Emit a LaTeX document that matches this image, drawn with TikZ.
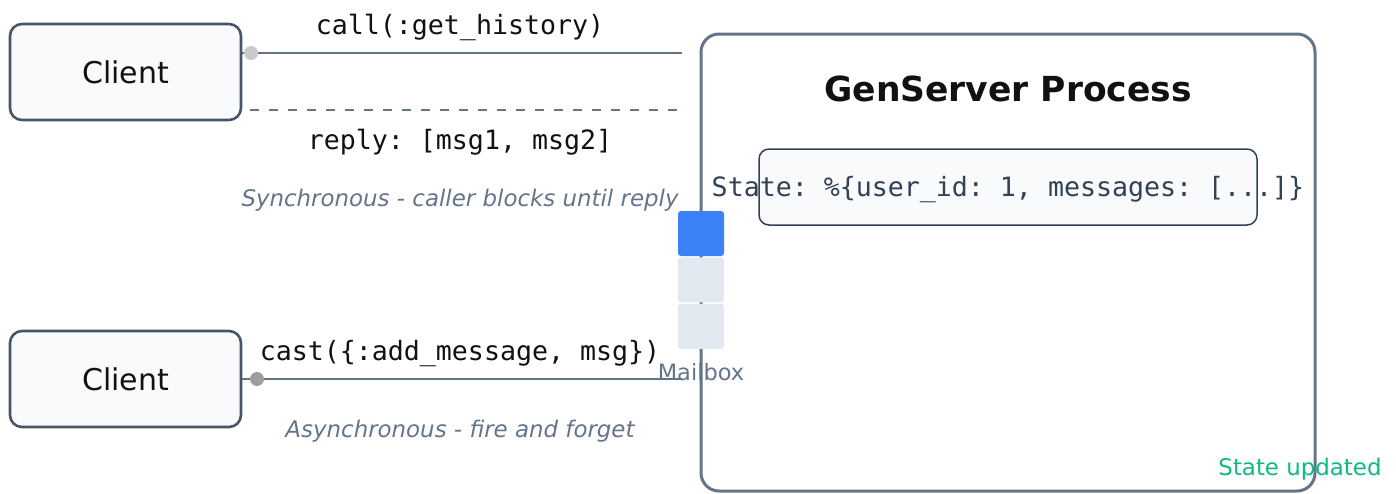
\documentclass[tikz,border=0pt]{standalone}
\usepackage{fontspec}
\setmainfont{DejaVu Sans}
\setmonofont{DejaVu Sans Mono}
\usetikzlibrary{positioning}
\definecolor{slate}{HTML}{64748B}
\definecolor{slatedark}{HTML}{475569}
\definecolor{slateink}{HTML}{334155}
\definecolor{paper}{HTML}{F8FAFC}
\definecolor{queue}{HTML}{E2E8F0}
\definecolor{blue}{HTML}{3B82F6}
\definecolor{green}{HTML}{10B981}
\definecolor{ink}{HTML}{111111}

\begin{document}
\begin{tikzpicture}[x=1pt, y=-1pt,
    client/.style={draw=slatedark, line width=2.6pt, fill=paper, rounded corners=12pt,
        minimum width=231pt, minimum height=96pt, font=\fontsize{30}{36}\selectfont, text=ink},
    msgline/.style={draw=slate, line width=2.6pt},
    code/.style={font=\ttfamily\fontsize{26.6}{32}\selectfont, text=ink},
    note/.style={font=\itshape\fontsize{22.9}{28}\selectfont, text=slate},
    slot/.style={rounded corners=3pt, minimum width=46pt, minimum height=45pt, inner sep=0pt}]
    \useasboundingbox (0,0) rectangle (1396,493);
    % process
    \path[draw=slate, line width=3pt, fill=white, rounded corners=18pt](701,34)rectangle(1315,491);
    \node[font=\bfseries\fontsize{34.5}{40}\selectfont, text=ink](title)at(1008,89){GenServer Process};
    \node[draw=slateink, line width=1.5pt, fill=paper, rounded corners=10pt,
        minimum width=498pt, minimum height=76pt](state)at(1008,187){};
    \node[font=\ttfamily\fontsize{26.6}{32}\selectfont, text=slateink](statetext)at(1008,190){State: \%\{user\_id: 1, messages: [...]\}};
    \node[font=\fontsize{22.9}{28}\selectfont, text=green](updated)at(1300,469){State updated};
    % mailbox
    \node[slot, fill=blue](slot1)at(701,233.5){};
    \node[slot, fill=queue, below=1pt of slot1](slot2){};
    \node[slot, fill=queue, below=1pt of slot2](slot3){};
    \node[font=\fontsize{22.5}{27}\selectfont, text=slate](mailbox)at(701,372){Mailbox};
    % clients
    \node[client](client1)at(125.5,72){Client};
    \node[client](client2)at(125.5,379){Client};
    % call
    \coordinate(callend)at(682,53);
    \coordinate(replyend)at(682,110);
    \coordinate(castend)at(682,379);
    \path[msgline](client1.east |- callend)to(callend);
    \fill[black!21](251,53)circle(7pt);
    \node[code](calllabel)at(460,27){call(:get\_history)};
    \path[msgline, dash pattern=on 9pt off 10pt](250,110)to(replyend);
    \node[code](replylabel)at(460,142){reply: [msg1, msg2]};
    \node[note](synclabel)at(460,200){Synchronous - caller blocks until reply};
    % cast
    \path[msgline](client2.east)to(castend);
    \fill[black!38](257,379)circle(7pt);
    \node[code](castlabel)at(460,353.5){cast(\{:add\_message, msg\})};
    \node[note](asynclabel)at(460,431){Asynchronous - fire and forget};
\end{tikzpicture}
\end{document}
